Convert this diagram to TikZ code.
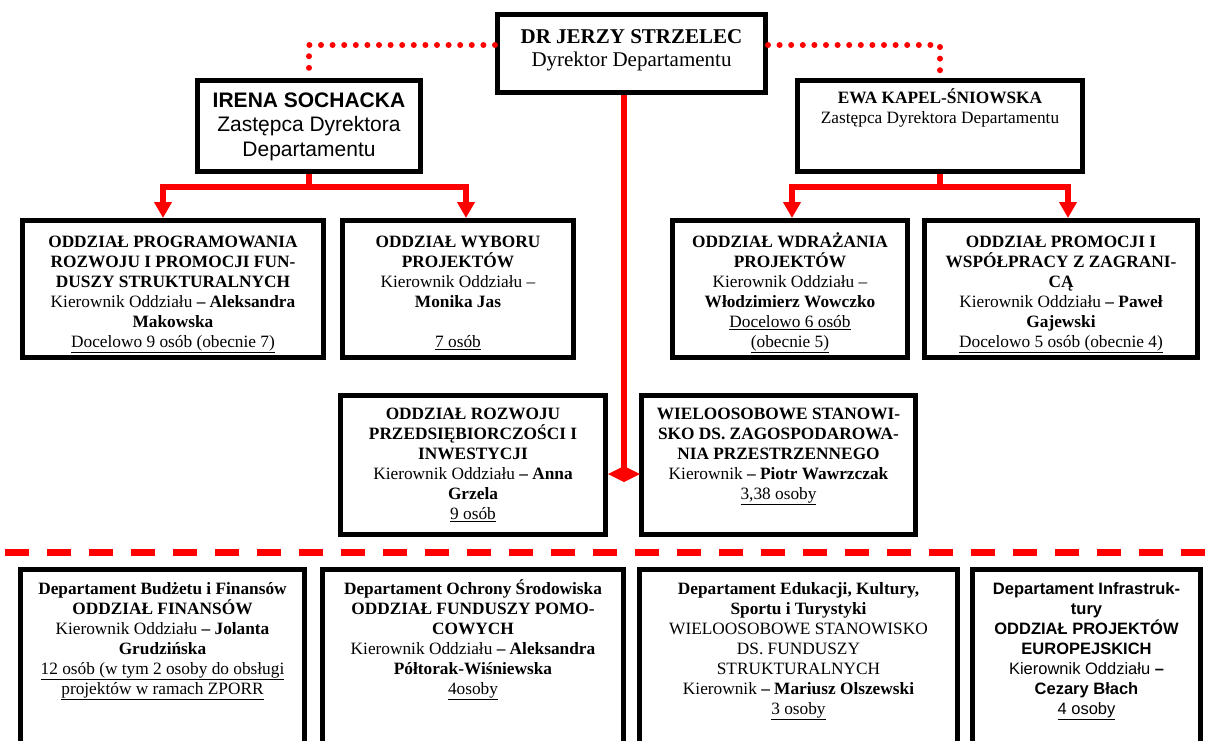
\documentclass[tikz,border=0pt]{standalone}
\usepackage{fontspec}
\setmainfont{Liberation Serif}
\newfontfamily\arialfont{Liberation Sans}
\usepackage{xcolor}
\usetikzlibrary{positioning,arrows.meta}
\definecolor{orgred}{RGB}{255,0,0}
\newcommand{\hdstrut}[1][17pt]{\rule{0pt}{#1}}

\begin{document}
\begin{tikzpicture}[x=1pt, y=-1pt,
    box/.style={draw, line width=5pt, inner sep=0pt},
    txt/.style={align=center, inner sep=0pt, anchor=north, font=\fontsize{17.3}{20}\selectfont},
    redline/.style={draw=orgred, line width=6pt},
    dotline/.style={draw=orgred, line width=6pt, line cap=round, dash pattern=on 0pt off 11.6pt},
    down/.style={-{Triangle[width=17pt,length=16pt]}}]
    \useasboundingbox (0,0) rectangle (1209,740);
    \clip (0,0) rectangle (1209,740);

    % top level
    \node[box, minimum width=268pt, minimum height=78pt] (dir) at (631.5,53.5) {};
    \node[box, minimum width=223pt, minimum height=91pt] (irena) at (309,126) {};
    \node[box, minimum width=285pt, minimum height=91pt] (ewa) at (940,126) {};

    \node[txt, font=\fontsize{21}{23}\selectfont] (dir-t) at ([yshift=-11.5pt]dir.north)
        {\hdstrut[20pt]\textbf{DR JERZY STRZELEC}\\Dyrektor Departamentu};
    \node[txt, font=\arialfont\fontsize{21}{24.5}\selectfont] (irena-t) at ([yshift=-9pt]irena.north)
        {\hdstrut[20pt]\textbf{IRENA SOCHACKA}\\Zastępca Dyrektora\\Departamentu};
    \node[txt] (ewa-t) at ([yshift=-8pt]ewa.north)
        {\hdstrut\textbf{EWA KAPEL-ŚNIOWSKA}\\Zastępca Dyrektora Departamentu};

    % oddzialy
    \node[box, minimum width=301pt, minimum height=137pt] (progr) at (173,289) {};
    \node[box, minimum width=231pt, minimum height=137pt] (wybor) at (458,289) {};
    \node[box, minimum width=235pt, minimum height=137pt] (wdraz) at (790,289) {};
    \node[box, minimum width=273pt, minimum height=137pt] (promo) at (1061,289) {};
    \node[box, minimum width=265pt, minimum height=139pt] (rozwoj) at (473,465) {};
    \node[box, minimum width=274pt, minimum height=139pt] (stanow) at (778.5,465) {};

    \node[txt] (progr-t) at ([yshift=-12pt]progr.north)
        {\hdstrut\textbf{ODDZIAŁ PROGRAMOWANIA}\\\textbf{ROZWOJU I PROMOCJI FUN-}\\\textbf{DUSZY STRUKTURALNYCH}\\
         Kierownik Oddziału \textbf{– Aleksandra}\\\textbf{Makowska}\\\underline{Docelowo 9 osób (obecnie 7)}};
    \node[txt] (wybor-t) at ([yshift=-12pt]wybor.north)
        {\hdstrut\textbf{ODDZIAŁ WYBORU}\\\textbf{PROJEKTÓW}\\Kierownik Oddziału –\\\textbf{Monika Jas}\\[20pt]\underline{7 osób}};
    \node[txt] (wdraz-t) at ([yshift=-12pt]wdraz.north)
        {\hdstrut\textbf{ODDZIAŁ WDRAŻANIA}\\\textbf{PROJEKTÓW}\\Kierownik Oddziału –\\\textbf{Włodzimierz Wowczko}\\
         \underline{Docelowo 6 osób}\\\underline{(obecnie 5)}};
    \node[txt] (promo-t) at ([yshift=-12pt]promo.north)
        {\hdstrut\textbf{ODDZIAŁ PROMOCJI I}\\\textbf{WSPÓŁPRACY Z ZAGRANI-}\\\textbf{CĄ}\\
         Kierownik Oddziału \textbf{– Paweł}\\\textbf{Gajewski}\\\underline{Docelowo 5 osób (obecnie 4)}};
    \node[txt] (rozwoj-t) at ([yshift=-9pt]rozwoj.north)
        {\hdstrut\textbf{ODDZIAŁ ROZWOJU}\\\textbf{PRZEDSIĘBIORCZOŚCI I}\\\textbf{INWESTYCJI}\\
         Kierownik Oddziału \textbf{– Anna}\\\textbf{Grzela}\\\underline{9 osób}};
    \node[txt] (stanow-t) at ([yshift=-9pt]stanow.north)
        {\hdstrut\textbf{WIELOOSOBOWE STANOWI-}\\\textbf{SKO DS. ZAGOSPODAROWA-}\\\textbf{NIA PRZESTRZENNEGO}\\
         Kierownik \textbf{– Piotr Wawrzczak}\\\underline{3,38 osoby}};

    % inne departamenty
    \node[box, minimum width=284pt, minimum height=228pt] (finans) at (162.5,683.5) {};
    \node[box, minimum width=301pt, minimum height=228pt] (pomoc) at (473,683.5) {};
    \node[box, minimum width=318pt, minimum height=228pt] (eduk) at (798.5,683.5) {};
    \node[box, minimum width=228pt, minimum height=228pt] (infra) at (1086.5,683.5) {};

    \node[txt] (finans-t) at ([yshift=-10pt]finans.north)
        {\hdstrut\textbf{Departament Budżetu i Finansów}\\\textbf{ODDZIAŁ FINANSÓW}\\
         Kierownik Oddziału \textbf{– Jolanta}\\\textbf{Grudzińska}\\
         \underline{12 osób (w tym 2 osoby do obsługi}\\\underline{projektów w ramach ZPORR}};
    \node[txt] (pomoc-t) at ([yshift=-10pt]pomoc.north)
        {\hdstrut\textbf{Departament Ochrony Środowiska}\\\textbf{ODDZIAŁ FUNDUSZY POMO-}\\\textbf{COWYCH}\\
         Kierownik Oddziału \textbf{– Aleksandra}\\\textbf{Półtorak-Wiśniewska}\\\underline{4osoby}};
    \node[txt] (eduk-t) at ([yshift=-10pt]eduk.north)
        {\hdstrut\textbf{Departament Edukacji, Kultury,}\\\textbf{Sportu i Turystyki}\\
         WIELOOSOBOWE STANOWISKO\\DS. FUNDUSZY\\STRUKTURALNYCH\\
         Kierownik \textbf{– Mariusz Olszewski}\\\underline{3 osoby}};
    \node[txt, font=\arialfont\fontsize{16.5}{20}\selectfont] (infra-t) at ([yshift=-10pt]infra.north)
        {\hdstrut\textbf{Departament Infrastruk-}\\\textbf{tury}\\\textbf{ODDZIAŁ PROJEKTÓW}\\\textbf{EUROPEJSKICH}\\
         Kierownik Oddziału \textbf{–}\\\textbf{Cezary Błach}\\\underline{4 osoby}};

    % connectors
    \coordinate (split) at (624,482);
    \coordinate (irena-bus) at (309,187);
    \coordinate (ewa-bus) at (940,187);
    \coordinate (sep-l) at (5,552);
    \coordinate (sep-r) at (1209,552);

    \draw[dotline] ([yshift=8.5pt]dir.west) -| (irena.north);
    \draw[dotline] ([yshift=8.5pt]dir.east) -| (ewa.north);
    \draw[redline, -{Diamond[length=16pt,width=32pt]}] (dir.south -| split) -- (split);

    \draw[redline] (irena.south) -- (irena-bus);
    \draw[redline, down] (irena-bus) -| ([xshift=-10pt]progr.north);
    \draw[redline, down] (irena-bus) -| ([xshift=8pt]wybor.north);
    \draw[redline] (ewa.south) -- (ewa-bus);
    \draw[redline, down] (ewa-bus) -| ([xshift=2pt]wdraz.north);
    \draw[redline, down] (ewa-bus) -| ([xshift=7pt]promo.north);

    \draw[draw=orgred, line width=7pt, dash pattern=on 24pt off 18pt] (sep-l) -- (sep-r);
\end{tikzpicture}
\end{document}
